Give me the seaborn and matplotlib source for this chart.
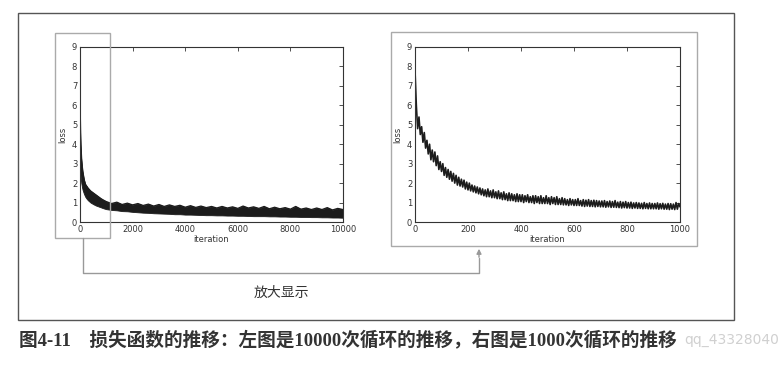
import matplotlib
matplotlib.use('Agg')
import matplotlib.pyplot as plt
from matplotlib.patches import Rectangle, FancyArrowPatch
from matplotlib.lines import Line2D
import seaborn as sns

# left chart: 10000 iterations, the noisy band read as lower / upper edge
left_iter = [0, 10, 25, 50, 75, 100, 150, 200, 250, 300, 400, 500, 600, 700,
             800, 900, 1000] + list(range(1200, 10001, 200))
left_high = [5.6, 4.8, 4.0, 3.3, 2.9, 2.6, 2.2, 1.95, 1.85, 1.75, 1.6, 1.5,
             1.4, 1.3, 1.2, 1.12, 1.05,
             0.95, 1.02, 0.9, 0.97, 0.88, 0.95, 0.85, 0.92, 0.82, 0.9, 0.8,
             0.88, 0.8, 0.86, 0.76, 0.84, 0.75, 0.82, 0.74, 0.8, 0.72, 0.8,
             0.72, 0.78, 0.7, 0.82, 0.72, 0.78, 0.7, 0.8, 0.68, 0.76, 0.68,
             0.74, 0.66, 0.8, 0.66, 0.72, 0.64, 0.72, 0.64, 0.74, 0.62, 0.7,
             0.64]
left_low = [3.0, 2.6, 2.3, 2.0, 1.8, 1.65, 1.45, 1.3, 1.2, 1.12, 1.0, 0.92,
            0.85, 0.8, 0.75, 0.7, 0.66,
            0.62, 0.6, 0.56, 0.55, 0.52, 0.5, 0.48, 0.47, 0.45, 0.44, 0.43,
            0.42, 0.4, 0.4, 0.38, 0.38, 0.37, 0.36, 0.35, 0.35, 0.34, 0.34,
            0.33, 0.33, 0.32, 0.32, 0.31, 0.3, 0.3, 0.3, 0.29, 0.29, 0.28,
            0.28, 0.27, 0.27, 0.26, 0.26, 0.25, 0.25, 0.24, 0.24, 0.23, 0.23,
            0.22]

# right chart: first 1000 iterations, one value every 5 iterations
right_iter = list(range(0, 1001, 5))
right_loss = [
    7.8, 6.0, 4.8, 5.4, 4.5, 4.9, 4.1, 4.6, 3.8, 4.2, 3.5, 4.0, 3.2, 3.7, 3.1, 3.6,
    2.9, 3.4, 2.7, 3.1, 2.6,
    3.0, 2.4, 2.8, 2.3, 2.7, 2.2, 2.6, 2.1, 2.5, 2.0, 2.4, 1.9, 2.3, 1.85, 2.2, 1.8,
    2.15, 1.7, 2.05, 1.65,
    2.0, 1.6, 1.9, 1.55, 1.85, 1.5, 1.8, 1.45, 1.75, 1.4, 1.7, 1.35, 1.65, 1.3, 1.7,
    1.3, 1.6, 1.25, 1.65, 1.25,
    1.55, 1.2, 1.6, 1.2, 1.5, 1.15, 1.55, 1.15, 1.45, 1.1, 1.5, 1.1, 1.45, 1.1, 1.4,
    1.05, 1.45, 1.05, 1.4, 1.05,
    1.4, 1.0, 1.35, 1.05, 1.4, 1.0, 1.3, 1.0, 1.35, 0.95, 1.35, 1.0, 1.3, 0.95, 1.35,
    0.95, 1.25, 0.95, 1.35, 0.95,
    1.25, 0.9, 1.3, 0.95, 1.25, 0.9, 1.3, 0.9, 1.2, 0.9, 1.25, 0.88, 1.2, 0.88, 1.15,
    0.85, 1.2, 0.88, 1.15, 0.85,
    1.15, 0.85, 1.2, 0.85, 1.1, 0.82, 1.15, 0.8, 1.12, 0.82, 1.15, 0.8, 1.1, 0.8,
    1.12, 0.78, 1.1, 0.8, 1.08, 0.78,
    1.08, 0.78, 1.1, 0.76, 1.05, 0.78, 1.08, 0.75, 1.05, 0.76, 1.1, 0.75, 1.02, 0.74,
    1.05, 0.72, 1.02, 0.74, 1.05, 0.72,
    1.0, 0.72, 1.02, 0.7, 0.98, 0.72, 1.0, 0.7, 0.98, 0.7, 0.96, 0.68, 1.0, 0.7,
    0.95, 0.68, 0.98, 0.68, 0.95, 0.68,
    0.95, 0.68, 0.98, 0.66, 0.94, 0.68, 0.96, 0.66, 0.92, 0.66, 0.95, 0.64, 0.94,
    0.66, 0.92, 0.64, 1.0, 0.66, 0.95, 0.78,
]

left_xticks = [0, 2000, 4000, 6000, 8000, 10000]
right_xticks = [0, 200, 400, 600, 800, 1000]
yticks = list(range(0, 10))

caption = '图4-11　损失函数的推移：左图是10000次循环的推移，右图是1000次循环的推移'
zoom_text = '放大显示'
watermark = 'qq_43328040'

sns.set_style('white')
plt.rcParams['font.family'] = ['DejaVu Sans', 'Noto Sans CJK SC']

W, H = 780, 365
fig = plt.figure(figsize=(W / 100, H / 100), dpi=100)


def fx(px):
    return px / W


def fy(py):
    return 1 - py / H


line_col = '#1c1c1c'
ax1 = fig.add_axes([fx(80), fy(222), fx(343) - fx(80), fy(47) - fy(222)])
ax2 = fig.add_axes([fx(415), fy(222), fx(680) - fx(415), fy(47) - fy(222)])

ax1.fill_between(left_iter, left_low, left_high, color=line_col, lw=0.6)
sns.lineplot(x=left_iter, y=left_high, ax=ax1, color=line_col, lw=0.9, estimator=None)
sns.lineplot(x=right_iter, y=right_loss, ax=ax2, color=line_col, lw=1.2, estimator=None)

for ax, xt, xmax in [(ax1, left_xticks, 10000), (ax2, right_xticks, 1000)]:
    ax.set_xlim(0, xmax)
    ax.set_ylim(0, 9)
    ax.set_xticks(xt)
    ax.set_yticks(yticks)
    ax.tick_params(direction='in', top=True, right=True, length=3, width=0.6,
                   labelsize=6, pad=2, colors='#333333')
    ax.set_xlabel('iteration', fontsize=6, labelpad=1, color='#333333')
    ax.set_ylabel('loss', fontsize=6, labelpad=3, color='#333333')
    for s in ax.spines.values():
        s.set_color('#333333')
        s.set_linewidth(0.8)
        s.set_visible(True)

# outer frame and gray highlight boxes
fig.add_artist(Rectangle((fx(18), fy(320)), fx(734) - fx(18), fy(13) - fy(320),
                         fill=False, ec='#555555', lw=1.0, transform=fig.transFigure))
fig.add_artist(Rectangle((fx(55), fy(238)), fx(110) - fx(55), fy(33) - fy(238),
                         fill=False, ec='#aaaaaa', lw=1.0, transform=fig.transFigure))
fig.add_artist(Rectangle((fx(391), fy(246)), fx(697) - fx(391), fy(32) - fy(246),
                         fill=False, ec='#aaaaaa', lw=1.0, transform=fig.transFigure))

# connector with arrow
fig.add_artist(Line2D([fx(83), fx(83), fx(479), fx(479)],
                      [fy(238), fy(273), fy(273), fy(258)],
                      color='#999999', lw=1.0, transform=fig.transFigure))
fig.add_artist(FancyArrowPatch((fx(479), fy(260)), (fx(479), fy(246)),
                               arrowstyle='-|>', mutation_scale=7, color='#999999',
                               lw=1.0, transform=fig.transFigure))

fig.text(fx(281), fy(293), zoom_text, ha='center', va='center', fontsize=10,
         color='#333333', family=['Noto Sans CJK SC'])
fig.text(fx(19), fy(340), caption, ha='left', va='center', fontsize=13.4,
         fontweight='bold', color='#333333',
         family=['Liberation Serif', 'Noto Sans CJK SC'])
fig.text(fx(684), fy(340), watermark, ha='left', va='center', fontsize=10,
         color='#d0d0d0', family=['DejaVu Sans'])

fig.savefig('out.png', dpi=100)
